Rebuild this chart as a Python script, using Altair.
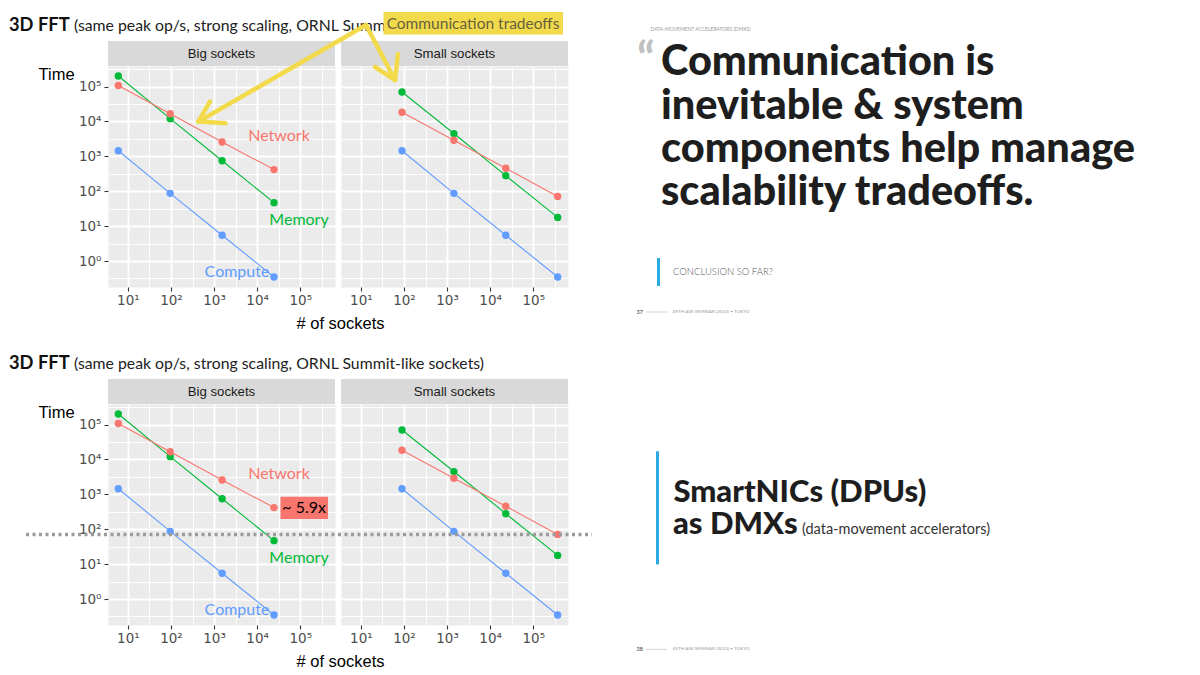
import math
import altair as alt
import pandas as pd

# ---------------- data ----------------
series_names = ["Compute", "Memory", "Network"]
series_colors = ["#619CFF", "#00BA38", "#F8766D"]
panel_names = ["Big sockets", "Small sockets"]

big_sockets = [6, 96, 1536, 24576]
small_sockets = [90, 1440, 23040, 368640]

big_compute = [1450, 87, 5.5, 0.35]
big_memory = [200000, 12000, 750, 47]
big_network = [107000, 16600, 2570, 417]

small_compute = [1450, 87, 5.5, 0.35]
small_memory = [70000, 4500, 280, 17.8]
small_network = [18300, 2900, 455, 71]

threshold_time = 71
ratio_label = "~ 5.9x"

x_exponents_half = [k / 2 for k in range(2, 12)]     # 10^1 .. 10^5.5
y_exponents_half = [k / 2 for k in range(-1, 12)]    # 10^-0.5 .. 10^5.5


def panel_frame(sockets, compute, memory, network):
    rows = []
    for name, vals in zip(series_names, [compute, memory, network]):
        for s, v in zip(sockets, vals):
            rows.append({"series": name, "sockets": s, "time": v})
    return pd.DataFrame(rows)


df_big = panel_frame(big_sockets, big_compute, big_memory, big_network)
df_small = panel_frame(small_sockets, small_compute, small_memory, small_network)


def expanded_log_domain(values):
    lo = math.log10(min(values))
    hi = math.log10(max(values))
    pad = 0.05 * (hi - lo)
    return [10 ** (lo - pad), 10 ** (hi + pad)]


x_domain = expanded_log_domain(big_sockets + small_sockets)
y_domain = expanded_log_domain(big_compute + big_memory + big_network +
                               small_compute + small_memory + small_network)
x_vals = [10 ** e for e in x_exponents_half]
y_vals = [10 ** e for e in y_exponents_half]

W, H = 227, 221
ONE = alt.InlineData(values=[{"a": 1}])

MAJOR = "abs(log(datum.value)/LN10 - round(log(datum.value)/LN10)) < 0.01"
LABEL = ("(" + MAJOR + ") ? '10' + ['\u2070','\u00b9','\u00b2','\u00b3','\u2074','\u2075']"
         "[round(log(datum.value)/LN10)] : ''")
GRID_W = {"condition": {"test": MAJOR, "value": 1.8}, "value": 0.9}
TICK_OP = {"condition": {"test": MAJOR, "value": 1}, "value": 0}

AXIS_FONT = "Liberation Sans"
SLIDE_FONT = "Lato"


def common_axis(**kw):
    base = dict(grid=True, gridColor="white", gridWidth=GRID_W, tickOpacity=TICK_OP,
                tickColor="#333333", tickSize=4, tickWidth=1.1, domain=False,
                labelFont="DejaVu Sans", labelFontSize=13.5, labelColor="#4D4D4D",
                labelExpr=LABEL, labelFlush=False, labelOverlap=False,
                titleFont=AXIS_FONT, titleFontSize=16.5, titleFontWeight="normal",
                titleColor="black")
    base.update(kw)
    return alt.Axis(**base)


def txt(text, x, y, size, color="#000000", weight="normal", font=SLIDE_FONT,
        align="left", baseline="alphabetic"):
    return alt.Chart(ONE).mark_text(
        text=text, fontSize=size, color=color, fontWeight=weight, font=font,
        align=align, baseline=baseline
    ).encode(x=alt.value(x), y=alt.value(y))


def box(x1, x2, y1, y2, color):
    return alt.Chart(ONE).mark_rect(color=color).encode(
        x=alt.value(x1), x2=alt.value(x2), y=alt.value(y1), y2=alt.value(y2))


def seg(x1, y1, x2, y2, color, width):
    return alt.Chart(ONE).mark_rule(color=color, strokeWidth=width, strokeCap="round").encode(
        x=alt.value(x1), y=alt.value(y1), x2=alt.value(x2), y2=alt.value(y2))


def panel(df, strip, left):
    if left:
        xaxis = common_axis(values=x_vals, title="# of sockets", titleX=232, titleY=41,
                            titleAlign="center", titleBaseline="alphabetic", labelPadding=2)
        yaxis = common_axis(values=y_vals, title="Time", titleAngle=0, titleX=-70, titleY=13,
                            titleAlign="left", titleBaseline="alphabetic", labelPadding=3)
    else:
        xaxis = common_axis(values=x_vals, title="", labelPadding=2)
        yaxis = common_axis(values=y_vals, title="", labels=False, ticks=False)
    x = alt.X("sockets:Q", scale=alt.Scale(type="log", domain=x_domain, nice=False), axis=xaxis)
    y = alt.Y("time:Q", scale=alt.Scale(type="log", domain=y_domain, nice=False), axis=yaxis)
    color = alt.Color("series:N", scale=alt.Scale(domain=series_names, range=series_colors),
                      legend=None)
    base = alt.Chart(df)
    lines = base.mark_line(strokeWidth=1.1).encode(x=x, y=y, color=color)
    points = base.mark_circle(size=54, opacity=1).encode(x=x, y=y, color=color)
    strip_bg = box(0, W, -25, 0, "#D9D9D9")
    strip_tx = txt(strip, W / 2, -12.5, 13.2, color="#1A1A1A", font=AXIS_FONT,
                   align="center", baseline="middle")
    return [lines, points, strip_bg, strip_tx]


def chart_titles():
    return [
        txt("3D FFT", -99, -35.5, 18.3, color="#111111", weight="bold"),
        txt("(same peak op/s, strong scaling, ORNL Summit-like sockets)", -34, -35.5, 15.8,
            color="#222222"),
    ]


def series_labels():
    return [
        txt("Network", 171, 70, 16, color="#F8766D", align="center", baseline="middle"),
        txt("Memory", 191, 154, 16, color="#00BA38", align="center", baseline="middle"),
        txt("Compute", 129, 206, 16, color="#619CFF", align="center", baseline="middle"),
    ]


def footer(num, y):
    return [
        txt(num, 295.6, y, 5.5, color="#666666", weight="bold", baseline="middle"),
        seg(305.7, y, 325.8, y, "#BBBBBB", 0.6),
        txt("49TH ASE SEMINAR (2023) \u2022 TOKYO", 331.6, y, 4.6, color="#999999",
            baseline="middle"),
    ]


YEL = "#F2DA4A"

# ---------- top row ----------
top_big = alt.layer(
    box(-107, -106, -65, -64, "white"),
    *panel(df_big, panel_names[0], True),
    *series_labels(),
    *chart_titles(),
).properties(width=W, height=H)

heading_lines = ["Communication is", "inevitable & system",
                 "components help manage", "scalability tradeoffs."]
top_small = alt.layer(
    *panel(df_small, panel_names[1], False),
    box(42.5, 222, -54, -31.5, YEL),
    txt("Communication tradeoffs", 132, -42.5, 15.5, color="#66613F", align="center",
        baseline="middle"),
    seg(25, -41, -142.6, 55.6, YEL, 4.5),
    seg(-142.6, 55.6, -131, 35.5, YEL, 4.5),
    seg(-142.6, 55.6, -115.5, 57.3, YEL, 4.5),
    seg(25, -41, 54, 14, YEL, 4.5),
    seg(54, 14, 34, 1, YEL, 4.5),
    seg(54, 14, 57, -12, YEL, 4.5),
    txt("DATA-MOVEMENT ACCELERATORS (DMXS)", 309.5, -37.2, 5, color="#9A9A9A",
        baseline="middle"),
    txt("\u201c", 296, 9.4, 46, color="#C0C0C0", weight="bold"),
    *[txt(t, 320, 9.4 + 43.1 * i, 41.5, color="#1E1E1E", weight=900)
      for i, t in enumerate(heading_lines)],
    box(316, 319, 192, 220, "#2BA9E1"),
    txt("CONCLUSION SO FAR?", 332, 206, 9.5, color="#555555", weight=300, baseline="middle"),
    *footer("37", 246),
).properties(width=W, height=H)

# ---------- bottom row ----------
bot_big = alt.layer(
    *panel(df_big, panel_names[0], True),
    *series_labels(),
    box(172.5, 220, 92.8, 115, "#F8766D"),
    txt(ratio_label, 196.2, 104, 16, color="#000000", align="center", baseline="middle"),
    *chart_titles(),
).properties(width=W, height=H)

thr = alt.Chart(ONE).mark_rule(color="#9B9B9B", strokeWidth=3.5, strokeDash=[3, 3.5]).encode(
    x=alt.value(-315), x2=alt.value(251),
    y=alt.Y(datum=threshold_time, type="quantitative",
            scale=alt.Scale(type="log", domain=y_domain, nice=False)),
)

bot_small = alt.layer(
    *panel(df_small, panel_names[1], False),
    thr,
    box(315, 318, 47.3, 160.4, "#2BA9E1"),
    txt("SmartNICs (DPUs)", 332.4, 97.7, 31, color="#1E1E1E", weight=900),
    txt("as DMXs", 332, 129.5, 31, color="#1E1E1E", weight=900),
    txt("(data-movement accelerators)", 461, 129.5, 14.5, color="#333333"),
    *footer("38", 245.3),
).properties(width=W, height=H)

row1 = alt.hconcat(top_big, top_small, spacing=6, bounds="flush")
row2 = alt.hconcat(bot_big, bot_small, spacing=6, bounds="flush")

# rows are flush (no intrinsic height), so spacing = panel height + gap
chart = alt.vconcat(row1, row2, spacing=H + 117, bounds="flush").properties(
    padding=0, background="white"
).configure_view(stroke="transparent", fill="#EBEBEB")

chart.save("out.html", embed_options={"renderer": "svg", "actions": False})
